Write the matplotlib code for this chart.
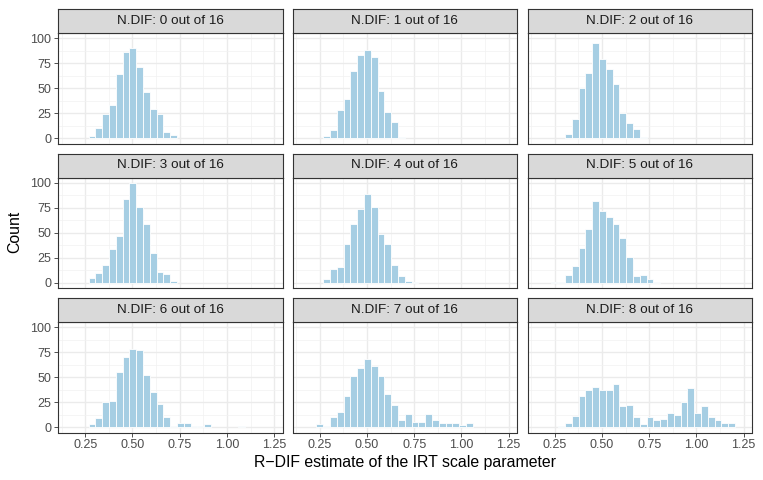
import numpy as np
import matplotlib
matplotlib.use("Agg")
import matplotlib.pyplot as plt

plt.rcParams['font.family'] = ['Liberation Sans', 'DejaVu Sans']

# ---- data ----
bin_edges = [0.160, 0.196, 0.232, 0.268, 0.304, 0.340, 0.376, 0.412, 0.448, 0.484,
             0.520, 0.556, 0.592, 0.628, 0.664, 0.700, 0.736, 0.772, 0.808, 0.844,
             0.880, 0.916, 0.952, 0.988, 1.024, 1.060, 1.096, 1.132, 1.168, 1.204, 1.240]

panel_titles = ["N.DIF: 0 out of 16", "N.DIF: 1 out of 16", "N.DIF: 2 out of 16",
                "N.DIF: 3 out of 16", "N.DIF: 4 out of 16", "N.DIF: 5 out of 16",
                "N.DIF: 6 out of 16", "N.DIF: 7 out of 16", "N.DIF: 8 out of 16"]

counts_0 = [0, 0, 0, 2, 10, 24, 33, 64, 86, 90, 71, 46, 29, 24, 6, 3, 0, 0, 0, 0, 0, 0, 0, 0, 0, 0, 0, 0, 0, 0]
counts_1 = [0, 0, 0, 2, 8, 28, 39, 67, 83, 88, 81, 47, 26, 16, 1, 0, 0, 0, 0, 0, 0, 0, 0, 0, 0, 0, 0, 0, 0, 0]
counts_2 = [0, 0, 0, 0, 4, 19, 50, 65, 95, 79, 69, 54, 25, 15, 9, 1, 0, 0, 0, 0, 0, 0, 0, 0, 0, 0, 0, 0, 0, 0]
counts_3 = [0, 0, 0, 5, 10, 18, 34, 47, 84, 100, 76, 59, 30, 11, 9, 2, 0, 0, 0, 0, 0, 0, 0, 0, 0, 0, 0, 0, 0, 0]
counts_4 = [0, 0, 0, 4, 14, 16, 39, 59, 74, 89, 76, 49, 39, 18, 7, 2, 1, 0, 0, 0, 0, 0, 0, 0, 0, 0, 0, 0, 0, 0]
counts_5 = [0, 0, 1, 1, 8, 17, 35, 54, 82, 72, 66, 59, 45, 26, 7, 8, 4, 1, 0, 0, 0, 0, 0, 0, 0, 0, 0, 0, 0, 0]
counts_6 = [0, 0, 0, 3, 9, 25, 26, 55, 70, 78, 77, 52, 35, 23, 10, 1, 4, 4, 1, 1, 3, 0, 0, 0, 0, 1, 0, 0, 0, 0]
counts_7 = [0, 0, 3, 1, 10, 15, 31, 51, 59, 68, 61, 51, 33, 22, 7, 13, 5, 5, 13, 7, 4, 4, 4, 2, 4, 0, 0, 0, 0, 0]
counts_8 = [0, 0, 0, 1, 4, 11, 31, 37, 40, 37, 37, 43, 21, 22, 10, 3, 10, 7, 8, 14, 12, 25, 39, 14, 21, 10, 7, 4, 4, 0]

all_counts = [counts_0, counts_1, counts_2, counts_3, counts_4,
              counts_5, counts_6, counts_7, counts_8]

x_ticks = [0.25, 0.50, 0.75, 1.00, 1.25]
x_tick_labels = ["0.25", "0.50", "0.75", "1.00", "1.25"]
y_ticks = [0, 25, 50, 75, 100]
y_tick_labels = ["0", "25", "50", "75", "100"]

# ---- layout (pixels) ----
W, H = 763, 480
fig = plt.figure(figsize=(W / 100, H / 100), dpi=100)
fig.patch.set_facecolor('white')

col_x = [58.0, 292.5, 527.5]
panel_w = 224.5
row_panel_top = [33.0, 177.5, 322.0]
panel_h = 110.5
strip_h = 24.0

edges = np.array(bin_edges)
centers = (edges[:-1] + edges[1:]) / 2
widths = np.diff(edges)

bar_color = '#A6CEE3'
grid_major = '#EBEBEB'
dark = '#333333'

for i, (title, counts) in enumerate(zip(panel_titles, all_counts)):
    r, c = divmod(i, 3)
    x0 = col_x[c]
    top = row_panel_top[r]
    ax = fig.add_axes([x0 / W, 1 - (top + panel_h) / H, panel_w / W, panel_h / H])
    ax.set_facecolor('white')
    cnt = np.array(counts)
    mask = cnt > 0
    ax.bar(centers[mask], cnt[mask], width=widths[mask], color=bar_color,
           edgecolor='white', linewidth=0.6, zorder=3)
    ax.set_xlim(0.106, 1.294)
    ax.set_ylim(-5, 105)
    ax.set_xticks(x_ticks)
    ax.set_yticks(y_ticks)
    ax.set_xticks([0.125, 0.375, 0.625, 0.875, 1.125], minor=True)
    ax.set_yticks([12.5, 37.5, 62.5, 87.5], minor=True)
    ax.grid(True, which='major', color=grid_major, linewidth=1.0, zorder=0)
    ax.grid(True, which='minor', color='#F2F2F2', linewidth=0.5, zorder=0)
    ax.set_axisbelow(True)
    for s in ax.spines.values():
        s.set_color(dark)
        s.set_linewidth(0.8)
        s.set_zorder(5)
    ax.tick_params(which='minor', length=0)
    ax.tick_params(which='major', length=2.7, width=0.6, color=dark,
                   labelsize=9.0, labelcolor='#4D4D4D', pad=2)
    if c == 0:
        ax.set_yticklabels(y_tick_labels)
    else:
        ax.tick_params(axis='y', which='major', length=0, labelleft=False)
    if r == 2:
        ax.set_xticklabels(x_tick_labels)
    else:
        ax.tick_params(axis='x', which='major', length=0, labelbottom=False)

    # strip
    sax = fig.add_axes([x0 / W, 1 - top / H, panel_w / W, strip_h / H])
    sax.set_facecolor('#D9D9D9')
    sax.set_xticks([])
    sax.set_yticks([])
    for s in sax.spines.values():
        s.set_color(dark)
        s.set_linewidth(0.8)
    sax.text(0.5, 0.5, title, ha='center', va='center', fontsize=9.7,
             color='#1A1A1A', transform=sax.transAxes)

fig.text((col_x[0] + col_x[2] + panel_w) / 2 / W, 1 - 462 / H,
         "R\u2212DIF estimate of the IRT scale parameter",
         ha='center', va='center', fontsize=11.4, color='black')
fig.text(15 / W, 1 - 232 / H, "Count", rotation=90, ha='center', va='center',
         fontsize=11.4, color='black')

fig.savefig('out.png', dpi=100, facecolor='white')
